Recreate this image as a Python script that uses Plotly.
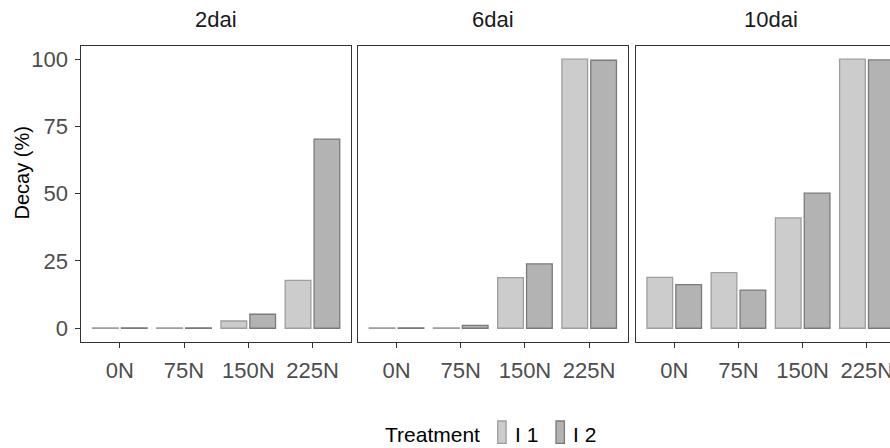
import plotly.graph_objects as go

# ---- data ----
nitrogen = ["0N", "75N", "150N", "225N"]
panels = ["2dai", "6dai", "10dai"]
treatments = ["I 1", "I 2"]
decay_I1 = {"2dai": [0, 0, 2.7, 17.8], "6dai": [0, 0, 18.8, 100.0], "10dai": [18.9, 20.7, 41.0, 100.0]}
decay_I2 = {"2dai": [0, 0, 5.2, 70.3], "6dai": [0, 1.1, 23.9, 99.6], "10dai": [16.2, 14.2, 50.2, 99.7]}
y_ticks = [0, 25, 50, 75, 100]

fill_colors = ["#CCCCCC", "#B3B3B3"]
line_colors = ["#9E9E9E", "#7A7A7A"]

W, H = 890, 448
FONT = "Liberation Sans, Arial, sans-serif"
TICK_COLOR = "#4D4D4D"
BORDER = "#333333"

fig = go.Figure()

x_domains = [[81.3 / W, 351 / W], [358 / W, 627.7 / W], [635.7 / W, 1.0]]
y_domain = [(H - 341.7) / H, (H - 45.7) / H]
cat_px = 269.7 / 4.2
x_ranges = [[0.4, 4.6], [0.4, 4.6], [0.4, 0.4 + (W - 635.7) / cat_px]]

MIN_VIS = 0.15  # minimal drawn height so zero bars show as a flat line

for i, p in enumerate(panels):
    xa = "x" if i == 0 else f"x{i+1}"
    ya = "y" if i == 0 else f"y{i+1}"
    for j, (vals, name) in enumerate([(decay_I1[p], treatments[0]), (decay_I2[p], treatments[1])]):
        shown = [max(v, MIN_VIS) for v in vals]
        fig.add_trace(go.Bar(
            x=[1, 2, 3, 4], y=shown, name=name, xaxis=xa, yaxis=ya,
            customdata=vals, hovertemplate="%{customdata}<extra>" + name + "</extra>",
            marker=dict(color=fill_colors[j], line=dict(color=line_colors[j], width=1.3)),
            showlegend=False, offsetgroup=str(j),
        ))
    xkey = "xaxis" if i == 0 else f"xaxis{i+1}"
    ykey = "yaxis" if i == 0 else f"yaxis{i+1}"
    fig.update_layout({
        xkey: dict(domain=x_domains[i], range=x_ranges[i], anchor=ya, automargin=False,
                   tickmode="array", tickvals=[1, 2, 3, 4], ticktext=nitrogen,
                   tickfont=dict(family=FONT, size=22, color=TICK_COLOR),
                   showgrid=False, zeroline=False, showline=True, linecolor=BORDER, linewidth=1.3,
                   mirror=True, ticks="outside", ticklen=4.7, tickwidth=1.1, tickcolor=BORDER,
                   ticklabelstandoff=4, ticklabeloverflow="allow"),
        ykey: dict(domain=y_domain, range=[-5, 105], anchor=xa, automargin=False,
                   tickmode="array", tickvals=y_ticks, ticktext=[str(t) for t in y_ticks],
                   showticklabels=(i == 0),
                   tickfont=dict(family=FONT, size=22, color=TICK_COLOR),
                   showgrid=False, zeroline=False, showline=True, linecolor=BORDER, linewidth=1.3,
                   mirror=(i < 2), ticks="outside" if i == 0 else "",
                   ticklen=4.7, tickwidth=1.1, tickcolor=BORDER, ticklabelstandoff=3),
    })
    cx = (x_domains[i][0] + (x_domains[i][0] + 269.7 / W)) / 2
    fig.add_annotation(text=p, x=cx, y=(H - 20) / H, xref="paper", yref="paper",
                       showarrow=False, xanchor="center", yanchor="middle",
                       font=dict(family=FONT, size=22, color="#1A1A1A"))

# y-axis title
fig.add_annotation(text="Decay (%)", x=21 / W, y=(H - 173.5) / H, xref="paper", yref="paper",
                   showarrow=False, textangle=-90, xanchor="center", yanchor="middle",
                   font=dict(family=FONT, size=20, color="#000000"))

# legend (built from the trace styles)
fig.add_annotation(text="Treatment", x=382.7 / W, y=0, xref="paper", yref="paper",
                   showarrow=False, xanchor="left", yanchor="bottom",
                   font=dict(family=FONT, size=21, color="#000000"))
key_x = [497.7, 556.0]
for j, name in enumerate(treatments):
    fig.add_shape(type="rect", xref="paper", yref="paper",
                  x0=key_x[j] / W, x1=(key_x[j] + 8.4) / W, y0=(H - 443.3) / H, y1=(H - 421) / H,
                  fillcolor=fill_colors[j], line=dict(color=line_colors[j], width=1.3))
    fig.add_annotation(text=name, x=(key_x[j] + 15) / W, y=0, xref="paper", yref="paper",
                       showarrow=False, xanchor="left", yanchor="bottom",
                       font=dict(family=FONT, size=21, color="#000000"))

fig.update_layout(
    width=W, height=H, margin=dict(l=0, r=0, t=0, b=0, autoexpand=False),
    paper_bgcolor="white", plot_bgcolor="white",
    barmode="group", bargap=0.1, bargroupgap=0.111,
    showlegend=False,
)

fig.write_html("out.html", config={"displayModeBar": False},
               post_script="document.body.style.margin='0';document.body.style.overflow='hidden';")
